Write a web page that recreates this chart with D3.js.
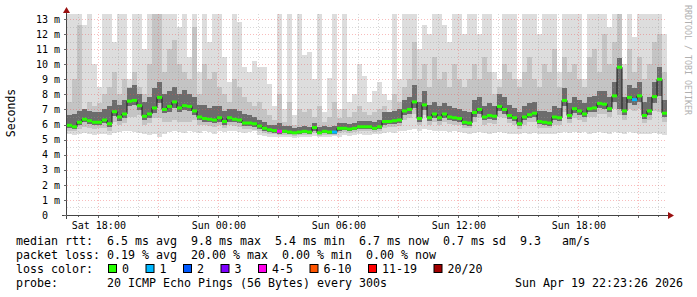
<!DOCTYPE html>
<html lang="en">
<head>
<meta charset="utf-8">
<title>smokeping</title>
<script src="https://d3js.org/d3.v7.min.js"></script>
<style>
  body { margin: 0; background: #fff; }
  text { font-family: "DejaVu Sans Mono", monospace; }
</style>
</head>
<body>
<script type="text/javascript">

// size of svg and plot box
var w = 697, h = 297;
var padL = 67, padR = 667, padT = 14, padB = 215;

// time window, one sample every 15 minutes
var start = new Date(2026, 3, 18, 16, 26);
var end = new Date(2026, 3, 19, 22, 26);
var stepMin = 15;

// median rtt (ms)
var med = [
  5.95,5.85,6.15,6.35,6.25,6.15,6.15,6.3,6.05,6.85,
  6.5,6.7,7.55,7.6,7.25,6.55,6.7,7.1,7.8,7.0,
  7.2,7.5,7.1,7.25,7.2,6.9,6.5,6.4,6.35,6.3,
  6.45,6.2,6.45,6.35,6.3,6.1,6.1,6.05,5.9,5.75,
  5.65,5.6,5.55,5.55,5.5,5.45,5.5,5.55,5.5,5.8,
  5.45,5.55,5.5,5.5,5.75,5.75,5.7,5.75,5.85,5.85,
  5.85,5.75,5.85,6.2,6.2,6.25,6.3,6.9,7.0,7.5,
  6.4,7.3,6.45,6.7,6.45,6.7,6.5,6.45,6.4,6.15,
  6.1,6.8,7.0,6.5,6.6,6.55,7.2,7.0,6.6,6.45,
  6.05,6.5,6.65,6.75,6.2,6.15,6.1,6.5,6.45,7.6,
  6.6,7.05,6.9,6.7,7.05,7.1,7.4,7.35,7.05,7.9,
  9.8,6.9,7.8,7.65,7.9,6.6,6.9,7.85,9.0,6.75
];

// lost pings per sample (of 20)
var loss = [
  0,0,0,0,0,0,0,0,0,0, 0,0,0,0,0,0,0,0,0,0,
  0,0,0,0,0,0,0,0,0,0, 0,0,0,0,0,0,0,0,0,0,
  0,0,4,0,0,0,0,0,0,0, 0,0,0,1,0,0,0,0,0,0,
  0,0,0,0,0,0,0,0,0,0, 0,0,0,0,0,0,0,0,0,0,
  0,0,0,0,0,0,0,0,0,0, 0,0,0,0,0,0,0,0,0,0,
  0,0,0,0,0,0,0,0,0,0, 0,0,0,1,0,0,0,0,0,0
];

// smoke: fastest ping
var lo = [
  5.4,5.3,5.35,5.45,5.4,5.3,5.35,5.4,5.3,5.45,
  5.5,5.55,5.6,5.5,5.45,5.35,5.3,5.4,5.2,5.35,
  5.5,5.55,5.5,5.45,5.6,5.5,5.45,5.55,5.5,5.4,
  5.55,5.5,5.6,5.55,5.5,5.45,5.5,5.55,5.3,5.25,
  5.2,5.15,5.2,5.2,5.15,5.1,5.2,5.15,5.2,5.25,
  5.15,5.2,5.2,5.25,5.2,5.3,5.25,5.3,5.35,5.3,
  5.3,5.35,5.4,5.45,5.5,5.45,5.55,5.6,5.65,5.7,
  5.6,5.7,5.65,5.55,5.6,5.55,5.5,5.55,5.5,5.45,
  5.4,5.45,5.5,5.45,5.4,5.45,5.5,5.45,5.4,5.35,
  5.4,5.45,5.4,5.45,5.35,5.4,5.35,5.4,5.45,5.5,
  5.45,5.5,5.45,5.5,5.4,5.45,5.5,5.45,5.4,5.5,
  5.45,5.4,5.5,5.45,5.4,5.35,5.4,5.45,5.35,5.3
];

// smoke: lower edge of the mid grey
var low = [
  5.6,5.55,5.7,5.85,5.8,5.7,5.75,5.8,5.6,6.2,
  5.95,6.1,6.5,6.5,6.6,6.0,6.1,6.4,6.4,6.2,
  6.2,6.3,6.2,6.2,6.2,6.3,6.0,5.95,5.9,5.85,
  5.95,5.8,5.95,5.9,5.85,5.7,5.7,5.65,5.55,5.45,
  5.4,5.35,5.3,5.3,5.3,5.25,5.3,5.3,5.3,5.45,
  5.25,5.3,5.3,5.3,5.45,5.5,5.45,5.5,5.55,5.55,
  5.55,5.5,5.6,5.8,5.85,5.85,5.9,6.3,6.4,6.7,
  6.0,6.6,6.0,6.2,6.0,6.2,6.05,6.0,5.95,5.8,
  5.75,6.2,6.4,6.0,6.1,6.05,6.5,6.4,6.1,6.0,
  5.7,6.0,6.15,6.2,5.8,5.75,5.75,6.0,6.0,6.8,
  6.1,6.4,6.3,6.2,6.5,6.5,6.7,6.7,6.5,7.0,
  6.6,6.3,7.0,6.9,7.0,6.1,6.3,6.9,6.8,6.2
];

// smoke: lower edge of the dark core
var q1 = [
  5.8,5.7,5.95,6.15,6.05,5.95,5.95,6.1,5.85,6.55,
  6.25,6.45,7.2,7.3,6.95,6.3,6.45,6.75,7.4,6.75,
  6.8,7.1,6.85,6.95,6.9,6.6,6.3,6.2,6.15,6.1,
  6.2,6.0,6.2,6.15,6.1,5.9,5.9,5.85,5.7,5.6,
  5.5,5.45,5.4,5.42,5.38,5.35,5.38,5.42,5.38,5.6,
  5.35,5.42,5.4,5.4,5.6,5.62,5.58,5.62,5.7,5.7,
  5.7,5.62,5.72,6.0,6.02,6.05,6.1,6.6,6.7,7.1,
  6.2,6.95,6.25,6.45,6.25,6.45,6.3,6.25,6.2,5.98,
  5.92,6.5,6.7,6.3,6.38,6.32,6.9,6.7,6.38,6.25,
  5.88,6.3,6.42,6.5,6.02,5.98,5.92,6.3,6.25,7.2,
  6.38,6.75,6.62,6.48,6.8,6.85,7.1,7.05,6.8,7.5,
  7.0,6.6,7.45,7.3,7.5,6.38,6.65,7.4,7.9,6.5
];

// smoke: upper edge of the dark core
var q3 = [
  6.6,6.7,6.9,7.0,6.9,6.8,6.8,7.0,7.2,7.6,
  7.3,7.6,8.4,8.6,8.0,7.5,7.8,8.4,8.8,8.0,
  8.2,8.5,8.0,8.3,8.0,7.8,7.3,7.3,7.1,7.2,
  7.2,6.9,7.0,7.0,6.9,6.7,6.6,6.5,6.3,6.2,
  6.0,5.95,6.1,5.9,5.9,5.8,5.85,5.9,5.85,6.1,
  5.85,5.9,5.85,5.9,6.1,6.1,6.05,6.1,6.25,6.25,
  6.25,6.2,6.3,6.8,6.8,6.9,7.0,7.6,7.8,8.6,
  7.5,8.2,7.3,7.5,7.2,7.4,7.2,7.1,7.0,6.9,
  6.8,7.6,7.8,7.2,7.4,7.2,8.0,7.8,7.3,7.1,
  6.8,7.2,7.4,7.5,6.9,6.9,6.8,7.2,7.1,8.4,
  7.4,7.8,7.6,7.4,7.8,7.9,8.2,8.2,7.8,8.8,
  10.4,7.8,8.6,8.4,8.8,7.5,7.8,8.8,9.8,7.6
];

// smoke: upper edge of the mid grey
var up = [
  7.5,9.0,12.6,7.0,7.5,7.2,7.4,8.0,8.5,9.5,
  8.0,9.0,8.5,9.5,8.5,8.0,10.0,13.4,13.4,9.5,
  11.0,11.6,10.0,9.5,9.0,12.5,8.0,10.0,9.0,9.5,
  8.5,8.0,7.5,9.0,8.5,7.8,7.5,7.2,7.5,7.0,
  6.6,6.3,8.0,6.2,7.5,6.0,7.0,6.8,7.0,6.5,
  7.2,6.2,6.5,7.5,6.4,7.0,6.5,6.8,7.2,6.8,
  6.6,6.8,7.0,7.2,6.8,8.0,7.5,8.5,9.0,11.5,
  9.0,10.0,8.5,10.5,9.0,9.5,8.5,10.0,9.0,8.5,
  9.0,10.0,9.0,10.5,9.5,8.0,8.5,10.0,9.5,9.0,
  8.5,9.5,10.5,9.0,8.5,10.0,9.5,11.0,8.5,10.5,
  9.5,10.0,9.0,8.5,10.5,11.0,9.5,12.0,10.0,11.5,
  13.4,9.0,11.0,9.5,10.5,9.0,10.0,11.5,12.0,9.5
];

// smoke: slowest ping
var hi = [
  13.4,13.4,13.4,12.6,13.4,10.0,8.5,13.4,13.4,11.5,
  13.4,13.4,9.0,13.4,13.4,11.0,13.4,13.4,13.4,13.4,
  13.4,13.4,12.5,13.4,10.5,13.4,9.5,13.4,11.5,13.4,
  13.4,10.5,8.8,13.4,12.8,9.8,9.5,10.2,9.8,9.8,
  8.7,7.2,13.4,7.0,13.4,6.6,13.4,10.6,10.8,9.0,
  13.4,6.8,9.1,13.4,7.0,13.4,7.5,8.0,10.0,9.2,
  7.5,8.2,8.8,8.0,7.6,13.4,9.0,13.4,13.4,13.4,
  11.0,12.6,12.0,13.4,13.4,12.6,11.5,13.4,13.4,12.0,
  13.4,13.4,12.0,13.4,13.4,9.5,9.0,13.4,13.4,13.4,
  9.0,13.4,13.4,13.4,12.0,13.4,13.4,13.4,9.5,13.4,
  13.4,13.4,13.4,9.0,13.4,13.4,13.4,13.4,12.5,13.4,
  13.4,10.0,13.4,11.8,13.4,13.4,13.4,13.4,13.4,12.0
];

// axis ticks
var yTicks = [0,1,2,3,4,5,6,7,8,9,10,11,12,13];
var xTicks = [new Date(2026,3,18,18), new Date(2026,3,19,0), new Date(2026,3,19,6),
              new Date(2026,3,19,12), new Date(2026,3,19,18)];

// loss colour legend
var lossLabels = ["0","1","2","3","4-5","6-10","11-19","20/20"];
var lossColors = ["#26ff00","#00b8ff","#0059ff","#7e00ff","#ff00ea","#ff5500","#ff0000","#a10000"];
var lossMax = [0,1,2,3,5,10,19,20];

// legend lines
var legendRows = [
  "median rtt:  6.5 ms avg  9.8 ms max  5.4 ms min  6.7 ms now  0.7 ms sd  9.3   am/s",
  "packet loss: 0.19 % avg  20.00 % max  0.00 % min  0.00 % now",
  "loss color:",
  "probe:       20 ICMP Echo Pings (56 Bytes) every 300s"
];
var stamp = "Sun Apr 19 22:23:26 2026";

// scales
var x = d3.scaleTime().domain([start, end]).range([padL, padR]);
var y = d3.scaleLinear().domain([0, 13.33]).range([padB, padT]).clamp(true);

var svg = d3.select("body").append("svg").attr("width", w).attr("height", h);
svg.append("rect").attr("width", w).attr("height", h).attr("fill", "#fff");

// rows of data, with one extra point to close the last step
var pts = med.map(function(m, i) {
  return {t: d3.timeMinute.offset(start, i * stepMin), med: m, loss: loss[i],
          lo: lo[i], low: low[i], q1: q1[i], q3: q3[i], up: up[i], hi: hi[i]};
});
var last = Object.assign({}, pts[pts.length - 1]);
last.t = d3.timeMinute.offset(start, pts.length * stepMin);
var ptsC = pts.concat([last]);

// smoke
function band(a, b, col) {
  svg.append("path").datum(ptsC)
    .attr("d", d3.area().curve(d3.curveStepAfter)
      .x(function(d) { return x(d.t); })
      .y0(function(d) { return y(d[a]); })
      .y1(function(d) { return y(d[b]); }))
    .attr("fill", col).attr("shape-rendering", "crispEdges");
}
band("lo", "hi", "#dddddd");
band("low", "up", "#c4c4c4");
band("q1", "q3", "#6c6c6c");

// grid
var grid = svg.append("g");
var majorCol = "rgba(240,80,80,0.38)", minorCol = "rgba(150,150,150,0.38)";
d3.range(1, 27).forEach(function(k) {
  var v = k / 2;
  grid.append("line").attr("x1", padL).attr("x2", padR)
    .attr("y1", Math.round(y(v)) + 0.5).attr("y2", Math.round(y(v)) + 0.5)
    .attr("stroke", k % 2 == 0 ? majorCol : minorCol)
    .attr("stroke-dasharray", "1,2");
});
d3.timeHour.range(start, end).forEach(function(t) {
  var major = t.getHours() % 3 == 0;
  grid.append("line").attr("y1", padT).attr("y2", padB)
    .attr("x1", Math.round(x(t)) + 0.5).attr("x2", Math.round(x(t)) + 0.5)
    .attr("stroke", major ? majorCol : minorCol)
    .attr("stroke-dasharray", "1,2");
  grid.append("line").attr("y1", padB).attr("y2", padB + (major ? 3 : 2))
    .attr("x1", Math.round(x(t)) + 0.5).attr("x2", Math.round(x(t)) + 0.5)
    .attr("stroke", "#666");
});

// median: dark steps then coloured segments
svg.append("path").datum(ptsC)
  .attr("d", d3.line().curve(d3.curveStepAfter)
    .x(function(d) { return x(d.t); })
    .y(function(d) { return y(d.med); }))
  .attr("fill", "none").attr("stroke", "#1a1a1a").attr("stroke-width", 1);

function lossColor(n) {
  for (var k = 0; k < lossMax.length; k++) if (n <= lossMax[k]) return lossColors[k];
  return lossColors[lossColors.length - 1];
}
svg.selectAll("line.med").data(pts).enter().append("line")
  .attr("class", "med")
  .attr("x1", function(d) { return x(d.t); })
  .attr("x2", function(d) { return x(d3.timeMinute.offset(d.t, stepMin)); })
  .attr("y1", function(d) { return y(d.med); })
  .attr("y2", function(d) { return y(d.med); })
  .attr("stroke", function(d) { return lossColor(d.loss); })
  .attr("stroke-width", 3);

// axes lines and arrows
svg.append("line").attr("x1", 62).attr("x2", 669).attr("y1", padB + 0.5).attr("y2", padB + 0.5)
  .attr("stroke", "#444");
svg.append("line").attr("x1", padL - 0.5).attr("x2", padL - 0.5).attr("y1", padB + 4).attr("y2", 10)
  .attr("stroke", "#444");
svg.append("path").attr("d", "M668,212 L674,215.5 L668,219 Z").attr("fill", "#9a1010");
svg.append("path").attr("d", "M63,13 L66.5,7 L70,13 Z").attr("fill", "#9a1010");

yTicks.forEach(function(v) {
  svg.append("line").attr("x1", padL - 3).attr("x2", padL)
    .attr("y1", Math.round(y(v)) + 0.5).attr("y2", Math.round(y(v)) + 0.5).attr("stroke", "#666");
});

// x labels
var gx = svg.append("g").attr("transform", "translate(0," + padB + ")")
  .call(d3.axisBottom(x).tickValues(xTicks).tickFormat(d3.timeFormat("%a %H:%M"))
    .tickSize(0).tickPadding(7));
gx.select(".domain").remove();
gx.selectAll("text").attr("font-size", 10).attr("fill", "#000")
  .attr("font-family", "DejaVu Sans Mono");

// y labels
var gy = svg.append("g").attr("transform", "translate(" + padL + ",0)")
  .call(d3.axisLeft(y).tickValues(yTicks).tickFormat(function(d) { return d; })
    .tickSize(0).tickPadding(19));
gy.select(".domain").remove();
gy.selectAll("text").attr("font-size", 10).attr("fill", "#000")
  .attr("font-family", "DejaVu Sans Mono");
gy.selectAll(".tick").filter(function(d) { return d > 0; })
  .append("text").attr("x", -13).attr("dy", "0.32em").attr("fill", "#000")
  .attr("font-size", 10).attr("font-family", "DejaVu Sans Mono")
  .attr("text-anchor", "start").text("m");

// axis title
svg.append("text").attr("transform", "translate(15,113) rotate(-90)")
  .attr("text-anchor", "middle").attr("font-size", 11.5).attr("fill", "#000")
  .text("Seconds");

// watermark
svg.append("text").attr("transform", "translate(685,5) rotate(90)")
  .attr("font-size", 8.3).attr("fill", "#b0b0b0").text("RRDTOOL / TOBI OETIKER");

// legend
var rowY = [245, 259, 273, 287];
legendRows.forEach(function(s, i) {
  svg.append("text").attr("x", 16).attr("y", rowY[i])
    .attr("font-size", 11.63).attr("fill", "#000")
    .style("white-space", "pre").text(s);
});
svg.append("text").attr("x", 683).attr("y", rowY[3]).attr("text-anchor", "end")
  .attr("font-size", 11.63).attr("fill", "#000").text(stamp);

var lx = 108;
lossLabels.forEach(function(lab, i) {
  svg.append("rect").attr("x", lx + 0.5).attr("y", rowY[2] - 8.5).attr("width", 8).attr("height", 8)
    .attr("fill", lossColors[i]).attr("stroke", "#000").attr("stroke-width", 1);
  svg.append("text").attr("x", lx + 14).attr("y", rowY[2])
    .attr("font-size", 11.63).attr("fill", "#000").text(lab);
  lx = lx + 14 + lab.length * 7 + 16.5;
});

</script>
</body>
</html>
